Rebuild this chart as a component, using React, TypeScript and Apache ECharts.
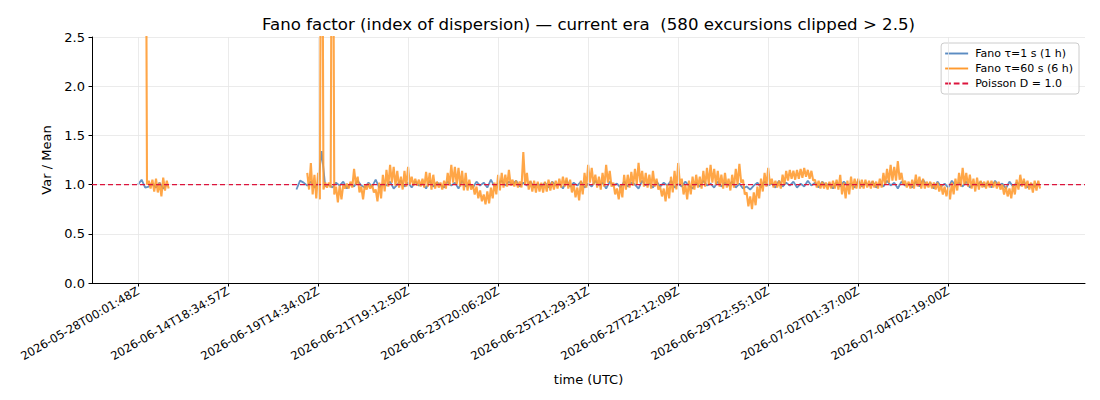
import React, { useEffect, useRef } from "react";
import * as echarts from "echarts";

const TITLE = "Fano factor (index of dispersion) — current era  (580 excursions clipped > 2.5)";
const X_TICK_LABELS = [
  "2026-05-28T00:01:48Z",
  "2026-06-14T18:34:57Z",
  "2026-06-19T14:34:02Z",
  "2026-06-21T19:12:50Z",
  "2026-06-23T20:06:20Z",
  "2026-06-25T21:29:31Z",
  "2026-06-27T22:12:09Z",
  "2026-06-29T22:55:10Z",
  "2026-07-02T01:37:00Z",
  "2026-07-04T02:19:00Z",
];
const X_TICK_POS = [0, 1, 2, 3, 4, 5, 6, 7, 8, 9];
const X_MIN = -0.511;
const X_MAX = 10.519;
const STEP = 0.04;

const BLUE_SEG1_START = 0;
const BLUE_SEG1 = [1.0, 1.05, 0.97, 0.98, 1.01, 0.97, 1.02, 0.96, 1.0];
const BLUE_SEG2_START = 44;
const BLUE_SEG2 = [
  0.95, 1.04, 1.02, 0.99, 1.03, 0.97, 1.01, 1.34, 0.98, 1.0,
  0.97, 1.02, 0.99, 1.03, 0.96, 1.01, 0.98, 1.04, 0.99, 0.97,
  1.02, 0.98, 1.05, 0.97, 1.01, 0.99, 1.03, 0.96, 1.0, 1.04,
  0.98, 1.02, 0.97, 1.03, 0.99, 1.01, 0.96, 1.04, 0.98, 1.02,
  1.0, 0.97, 1.03, 0.99, 1.02, 0.96, 1.04, 0.98, 1.01, 0.97,
  1.03, 0.99, 1.02, 0.97, 1.05, 0.98, 1.01, 1.04, 0.99, 1.03,
  1.0, 1.04, 0.98, 1.02, 0.99, 1.03, 0.97, 1.01, 0.98, 1.02,
  0.97, 1.03, 0.99, 1.01, 0.96, 1.04, 0.98, 1.02, 0.99, 1.03,
  0.97, 1.01, 0.98, 1.04, 0.99, 1.02, 0.96, 1.03, 0.99, 1.01,
  0.97, 1.03, 0.98, 1.02, 1.0, 0.96, 1.04, 0.99, 1.01, 0.97,
  1.03, 0.98, 1.02, 0.99, 1.04, 0.97, 1.01, 0.98, 1.03, 0.99,
  0.96, 1.02, 0.98, 1.04, 0.99, 1.01, 0.97, 1.03, 0.98, 1.02,
  0.99, 1.03, 0.97, 1.01, 0.96, 0.98, 0.95, 0.99, 1.02, 0.97,
  1.03, 0.99, 1.01, 0.97, 1.04, 0.98, 1.02, 0.99, 1.03, 0.97,
  1.01, 0.98, 1.04, 0.99, 1.02, 0.97, 1.03, 0.99, 1.01, 0.96,
  1.02, 0.98, 1.03, 0.99, 1.01, 0.97, 1.04, 0.98, 1.02, 0.99,
  1.03, 0.97, 1.01, 0.98, 1.04, 0.99, 1.02, 0.96, 1.03, 0.99,
  1.01, 0.97, 1.03, 0.98, 1.05, 0.99, 1.02, 0.96, 1.03, 0.98,
  1.01, 0.97, 1.04, 0.99, 1.02, 0.98, 1.03, 0.97, 1.01, 0.99,
  1.03, 0.98, 1.02, 0.97, 1.04, 0.99, 1.01, 0.96, 1.03, 0.98,
  1.02, 0.99, 1.03, 0.97, 1.01, 0.98, 1.02,
];

// orange (τ=60 s): upper and lower edges of the noisy band, read per sample
const ORANGE_SEG1_START = 2;
const ORANGE_SEG1_HI = [6.0, 1.04, 1.05, 1.06, 1.02, 1.07, 1.04];
const ORANGE_SEG1_LO = [1.0, 0.96, 0.93, 0.92, 0.88, 0.94, 0.96];
const ORANGE_SEG2_START = 47;
const ORANGE_SEG2_HI = [
  1.12, 1.22, 1.1, 1.12, 6.0, 1.02, 1.02, 6.0, 0.98, 0.99,
  1.0, 1.01, 1.03, 1.16, 1.08, 0.98, 1.0, 1.01, 1.0, 0.95,
  1.02, 1.1, 1.15, 1.2, 1.18, 1.14, 1.08, 1.14, 1.18, 1.08,
  1.06, 1.05, 1.06, 1.13, 1.12, 1.1, 1.03, 1.02, 1.04, 1.12,
  1.2, 1.18, 1.17, 1.14, 1.12, 1.05, 1.0, 0.98, 0.94, 0.9,
  0.93, 0.97, 1.02, 1.1, 1.12, 1.1, 1.15, 1.05, 1.04, 1.03,
  1.33, 1.12, 1.04, 1.04, 1.03, 1.02, 1.03, 1.05, 1.03, 1.04,
  1.06, 1.08, 1.07, 1.05, 1.0, 0.97, 1.04, 1.12, 1.2, 1.17,
  1.1, 1.08, 1.12, 1.2, 1.14, 1.02, 0.96, 1.0, 1.1, 1.1,
  1.13, 1.16, 1.22, 1.14, 1.12, 1.1, 1.14, 1.06, 0.98, 0.96,
  1.0, 1.08, 1.14, 1.22, 1.06, 1.0, 1.04, 1.08, 1.1, 1.08,
  1.14, 1.17, 1.2, 1.16, 1.14, 1.1, 1.12, 1.06, 1.1, 1.16,
  1.21, 1.05, 0.92, 0.88, 0.92, 0.98, 1.06, 1.12, 1.17, 1.06,
  1.04, 1.04, 1.1, 1.14, 1.15, 1.14, 1.15, 1.16, 1.17, 1.15,
  1.14, 1.05, 1.04, 1.03, 1.02, 1.03, 1.04, 1.05, 1.1, 1.02,
  1.04, 1.08, 1.06, 1.06, 1.05, 1.05, 1.04, 1.04, 1.03, 1.06,
  1.12, 1.16, 1.2, 1.18, 1.24, 1.12, 1.04, 1.03, 1.05, 1.1,
  1.08, 1.06, 1.03, 1.03, 1.02, 1.02, 1.0, 0.98, 0.97, 1.02,
  1.06, 1.12, 1.17, 1.12, 1.1, 1.06, 1.07, 1.04, 1.03, 1.04,
  1.04, 1.03, 1.03, 1.0, 0.98, 0.96, 1.0, 1.05, 1.1, 1.06,
  1.04, 1.02, 1.04, 1.04,
];
const ORANGE_SEG2_LO = [
  0.95, 0.9, 0.86, 0.85, 0.95, 0.97, 0.97, 0.9, 0.82, 0.85,
  0.96, 0.96, 0.97, 1.0, 0.92, 0.85, 0.95, 0.96, 0.92, 0.83,
  0.86, 0.93, 0.98, 1.02, 0.99, 0.97, 0.95, 0.98, 1.0, 0.99,
  0.99, 0.98, 0.97, 0.98, 0.95, 0.96, 0.97, 0.95, 0.96, 0.99,
  1.02, 1.0, 0.98, 0.94, 0.94, 0.95, 0.9, 0.86, 0.83, 0.8,
  0.81, 0.86, 0.9, 0.94, 0.97, 0.98, 0.99, 0.98, 0.97, 0.97,
  1.0, 0.95, 0.93, 0.92, 0.93, 0.92, 0.93, 0.94, 0.95, 0.96,
  0.97, 0.98, 0.96, 0.92, 0.87, 0.84, 0.9, 0.97, 1.02, 1.0,
  0.97, 0.95, 0.98, 1.02, 0.98, 0.9, 0.85, 0.87, 0.95, 0.97,
  0.99, 1.0, 1.02, 0.98, 0.97, 0.96, 0.98, 0.95, 0.88, 0.83,
  0.86, 0.92, 0.95, 1.0, 0.9, 0.85, 0.9, 0.95, 0.97, 0.96,
  0.98, 1.0, 1.02, 1.0, 0.98, 0.96, 0.97, 0.94, 0.97, 1.0,
  1.02, 0.9, 0.78, 0.75, 0.79, 0.86, 0.93, 0.98, 1.0, 0.97,
  0.97, 0.96, 1.0, 1.04, 1.06, 1.05, 1.06, 1.07, 1.08, 1.06,
  1.04, 0.97, 0.96, 0.96, 0.95, 0.96, 0.96, 0.95, 0.9, 0.86,
  0.9, 0.95, 0.96, 0.96, 0.96, 0.97, 0.96, 0.97, 0.96, 0.97,
  1.0, 1.02, 1.04, 1.04, 1.05, 1.0, 0.97, 0.96, 0.96, 0.98,
  0.96, 0.96, 0.97, 0.96, 0.95, 0.93, 0.9, 0.88, 0.85, 0.9,
  0.94, 0.98, 1.0, 0.98, 0.96, 0.93, 0.95, 0.97, 0.96, 0.97,
  0.97, 0.96, 0.95, 0.9, 0.88, 0.86, 0.9, 0.95, 0.98, 0.96,
  0.95, 0.92, 0.94, 0.96,
];
const POISSON_D = 1.0;

const FONT = "DejaVu Sans";
const BLUE = "#5b8cc2";
const ORANGE = "#ff9a2e";
const RED = "#dc143c";

function seg(start: number, vals: number[]) {
  return vals.map((v, k) => [+((start + k) * STEP).toFixed(4), v]);
}
function band(start: number, hi: number[], lo: number[]) {
  const out: any[] = [];
  hi.forEach((h, k) => {
    out.push([+((start + k) * STEP).toFixed(4), h]);
    out.push([+((start + k + 0.5) * STEP).toFixed(4), lo[k]]);
  });
  return out;
}
function gapAt(start: number, n: number) {
  return [+((start + n) * STEP).toFixed(4), null];
}

const SOLID_ICON = "path://M0,0H24V2H0Z";
const DASH_ICON = "path://M0,0H6V2H0Z M9,0H15V2H9Z M18,0H24V2H18Z";

export default function App() {
  const ref = useRef<HTMLDivElement>(null);
  useEffect(() => {
    document.body.style.margin = "0";
    const chart = echarts.init(ref.current!, null, { renderer: "svg" });
    const blueData = [
      ...seg(BLUE_SEG1_START, BLUE_SEG1),
      gapAt(BLUE_SEG1_START, BLUE_SEG1.length),
      ...seg(BLUE_SEG2_START, BLUE_SEG2),
    ];
    const orangeData = [
      ...band(ORANGE_SEG1_START, ORANGE_SEG1_HI, ORANGE_SEG1_LO),
      gapAt(ORANGE_SEG1_START, ORANGE_SEG1_HI.length),
      ...band(ORANGE_SEG2_START, ORANGE_SEG2_HI, ORANGE_SEG2_LO),
    ];
    const option: any = {
      animation: false,
      backgroundColor: "#ffffff",
      textStyle: { fontFamily: FONT, color: "#000" },
      title: {
        text: TITLE,
        left: 583.5,
        top: 11,
        textAlign: "center",
        textStyle: { fontFamily: FONT, fontSize: 16.6, fontWeight: "normal", color: "#000" },
      },
      grid: { left: 92, right: 15, top: 37, bottom: 117, containLabel: false },
      legend: {
        orient: "vertical",
        right: 21,
        top: 43,
        padding: [5, 6, 5, 4],
        itemGap: 4,
        itemWidth: 23,
        itemHeight: 2,
        borderColor: "#cccccc",
        borderWidth: 1,
        borderRadius: 3,
        backgroundColor: "rgba(255,255,255,0.8)",
        textStyle: { fontFamily: FONT, fontSize: 11, color: "#000", padding: [0, 0, 0, 2] },
        data: [
          { name: "Fano τ=1 s (1 h)", icon: SOLID_ICON, itemStyle: { color: BLUE } },
          { name: "Fano τ=60 s (6 h)", icon: SOLID_ICON, itemStyle: { color: ORANGE } },
          { name: "Poisson D = 1.0", icon: DASH_ICON, itemStyle: { color: RED } },
        ],
      },
      xAxis: {
        type: "value",
        min: X_MIN,
        max: X_MAX,
        name: "time (UTC)",
        nameLocation: "middle",
        nameGap: 90,
        nameTextStyle: { fontFamily: FONT, fontSize: 13, color: "#000" },
        axisLine: { show: true, onZero: false, lineStyle: { color: "#000", width: 1 } },
        axisTick: { show: true, inside: false, length: 3.5, customValues: X_TICK_POS, lineStyle: { color: "#000" } },
        axisLabel: {
          show: true,
          customValues: X_TICK_POS,
          rotate: 30,
          margin: 7,
          fontFamily: FONT,
          fontSize: 11.6,
          color: "#000",
          formatter: (v: number) => X_TICK_LABELS[Math.round(v)] ?? "",
        },
        splitLine: { show: false },
      },
      yAxis: {
        type: "value",
        min: 0,
        max: 2.5,
        interval: 0.5,
        name: "Var / Mean",
        nameLocation: "middle",
        nameGap: 38,
        nameTextStyle: { fontFamily: FONT, fontSize: 13, color: "#000" },
        axisLine: { show: true, onZero: false, lineStyle: { color: "#000", width: 1 } },
        axisTick: { show: true, inside: false, length: 3.5, lineStyle: { color: "#000" } },
        axisLabel: {
          margin: 7,
          fontFamily: FONT,
          fontSize: 13,
          color: "#000",
          formatter: (v: number) => v.toFixed(1),
        },
        splitLine: { show: true, lineStyle: { color: "#e6e6e6", width: 0.8 } },
      },
      series: [
        {
          name: "vgrid",
          type: "line",
          data: [],
          silent: true,
          z: 1,
          markLine: {
            silent: true,
            symbol: ["none", "none"],
            label: { show: false },
            lineStyle: { color: "#e6e6e6", width: 0.8, type: "solid" },
            data: X_TICK_POS.map((p) => ({ xAxis: p })),
          },
        },
        {
          name: "Fano τ=1 s (1 h)",
          type: "line",
          data: blueData,
          showSymbol: false,
          symbol: "none",
          connectNulls: false,
          clip: true,
          z: 2,
          color: BLUE,
          lineStyle: { color: BLUE, width: 1.8, opacity: 0.95 },
        },
        {
          name: "Fano τ=60 s (6 h)",
          type: "line",
          data: orangeData,
          showSymbol: false,
          symbol: "none",
          connectNulls: false,
          clip: true,
          z: 3,
          color: ORANGE,
          lineStyle: { color: ORANGE, width: 2.1, opacity: 0.88 },
        },
        {
          name: "Poisson D = 1.0",
          type: "line",
          data: [[X_MIN, POISSON_D], [X_MAX, POISSON_D]],
          showSymbol: false,
          symbol: "none",
          z: 4,
          color: RED,
          lineStyle: { color: RED, width: 1.3, type: [5, 3] },
        },
      ],
    };
    chart.setOption(option);
    return () => chart.dispose();
  }, []);
  return <div ref={ref} style={{ width: 1100, height: 400 }} />;
}
